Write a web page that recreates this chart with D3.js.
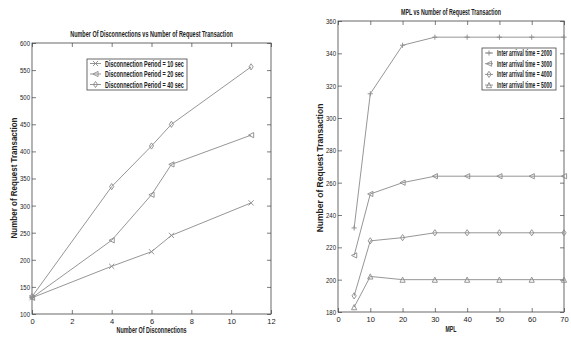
<!DOCTYPE html>
<html lang="en">
  <head>
    <meta charset="UTF-8" />
    <title>Request Transaction charts</title>
    <script src="https://d3js.org/d3.v7.min.js"></script>
    <style>
      body { margin: 0; background: #fff; }
      svg text { font-family: "Liberation Sans", Arial, sans-serif; fill: #222; }
    </style>
  </head>
  <body>
    <svg id="chart" width="571" height="339"></svg>
    <script>
      // left chart
      const disconnections = [0, 4, 6, 7, 11];
      const period10 = [130, 188, 215, 245, 305];
      const period20 = [130, 236, 320, 376, 430];
      const period40 = [132, 335, 410, 450, 556];
      const leftNames = ["Disconnection Period = 10 sec", "Disconnection Period = 20 sec", "Disconnection Period = 40 sec"];
      const leftXTicks = [0, 2, 4, 6, 8, 10, 12];
      const leftYTicks = [100, 150, 200, 250, 300, 350, 400, 450, 500, 550, 600];

      // right chart
      const mpl = [5, 10, 20, 30, 40, 50, 60, 70];
      const iat2000 = [232, 315, 345, 350, 350, 350, 350, 350];
      const iat3000 = [215, 253, 260, 264, 264, 264, 264, 264];
      const iat4000 = [190, 224, 226, 229, 229, 229, 229, 229];
      const iat5000 = [183, 202, 200, 200, 200, 200, 200, 200];
      const rightNames = ["Inter arrival time = 2000", "Inter arrival time = 3000", "Inter arrival time = 4000", "Inter arrival time = 5000"];
      const rightXTicks = [0, 10, 20, 30, 40, 50, 60, 70];
      const rightYTicks = [180, 200, 220, 240, 260, 280, 300, 320, 340, 360];

      const svg = d3.select("#chart");
      const lineColor = "#8a8a8a";

      // condensed look: draw text at (x, y), then scale it horizontally to width w
      function narrowText(g, x, y, str, w, opts) {
        const t = g.append("text").attr("x", 0).attr("y", 0)
          .attr("text-anchor", opts.anchor || "start")
          .style("font-size", opts.size + "px")
          .style("font-weight", opts.weight || "bold")
          .text(str);
        const k = w / t.node().getComputedTextLength();
        const rot = opts.rotate ? ` rotate(${opts.rotate})` : "";
        t.attr("transform", `translate(${x},${y})${rot} scale(${k},1)`);
        return t;
      }

      function marker(g, type, x, y) {
        const s = 2.6;
        let d;
        if (type === "x") d = `M${x - s},${y - s}L${x + s},${y + s}M${x - s},${y + s}L${x + s},${y - s}`;
        else if (type === "+") d = `M${x - s},${y}L${x + s},${y}M${x},${y - s}L${x},${y + s}`;
        else if (type === "<") d = `M${x - s},${y}L${x + s},${y - s}L${x + s},${y + s}Z`;
        else if (type === "^") d = `M${x},${y - s}L${x + s},${y + s}L${x - s},${y + s}Z`;
        else d = `M${x},${y - s - 0.5}L${x + s - 0.5},${y}L${x},${y + s + 0.5}L${x - s + 0.5},${y}Z`;
        g.append("path").attr("d", d).attr("fill", "none").attr("stroke", lineColor).attr("stroke-width", 0.9);
      }

      function drawPlot(cfg) {
        const x = d3.scaleLinear().domain(cfg.xDomain).range([cfg.left, cfg.right]);
        const y = d3.scaleLinear().domain(cfg.yDomain).range([cfg.bottom, cfg.top]);
        const g = svg.append("g");

        g.append("rect")
          .attr("x", cfg.left).attr("y", cfg.top)
          .attr("width", cfg.right - cfg.left).attr("height", cfg.bottom - cfg.top)
          .attr("fill", "none").attr("stroke", "#444").attr("stroke-width", 0.8);

        const xb = g.append("g").attr("transform", `translate(0,${cfg.bottom})`)
          .call(d3.axisBottom(x).tickValues(cfg.xTicks).tickSize(-4).tickPadding(5));
        const xt = g.append("g").attr("transform", `translate(0,${cfg.top})`)
          .call(d3.axisTop(x).tickValues(cfg.xTicks).tickSize(-4).tickFormat(""));
        const yl = g.append("g").attr("transform", `translate(${cfg.left},0)`)
          .call(d3.axisLeft(y).tickValues(cfg.yTicks).tickSize(-4).tickPadding(2));
        const yr = g.append("g").attr("transform", `translate(${cfg.right},0)`)
          .call(d3.axisRight(y).tickValues(cfg.yTicks).tickSize(-4).tickFormat(""));
        [xb, xt, yl, yr].forEach((a) => {
          a.select(".domain").remove();
          a.selectAll("line").attr("stroke", "#444").attr("stroke-width", 0.7);
          a.selectAll("text").style("font-size", "7.5px").attr("fill", "#222");
        });
        yl.selectAll("text").attr("transform", "scale(0.8,1)")
          .attr("x", function () { return +d3.select(this).attr("x") / 0.8; });

        cfg.series.forEach((s) => {
          const line = d3.line().x((d, i) => x(cfg.xs[i])).y((d) => y(d));
          g.append("path").datum(s.values).attr("d", line)
            .attr("fill", "none").attr("stroke", lineColor).attr("stroke-width", 0.9);
          s.values.forEach((v, i) => marker(g, s.marker, x(cfg.xs[i]), y(v)));
        });

        // legend
        const L = cfg.legend;
        g.append("rect").attr("x", L.x).attr("y", L.y).attr("width", L.w).attr("height", L.h)
          .attr("fill", "#fff").attr("stroke", "#444").attr("stroke-width", 0.8);
        cfg.series.forEach((s, i) => {
          const ly = L.y + L.first + i * L.step;
          g.append("line").attr("x1", L.x + 3).attr("x2", L.x + L.sample)
            .attr("y1", ly).attr("y2", ly).attr("stroke", lineColor).attr("stroke-width", 0.9);
          marker(g, s.marker, L.x + 3 + (L.sample - 3) / 2, ly);
          narrowText(g, L.x + L.sample + 4, ly + 3, s.name, L.textW, { size: 8.5 });
        });

        const mid = (cfg.left + cfg.right) / 2;
        narrowText(g, mid, cfg.titleY, cfg.title, cfg.titleW, { size: 8.5, anchor: "middle" });
        narrowText(g, mid, cfg.xLabelY, cfg.xLabel, cfg.xLabelW, { size: 8.5, anchor: "middle" });
        narrowText(g, cfg.yLabelX, cfg.yLabelMid, cfg.yLabel, cfg.yLabelW, { size: 8.5, anchor: "middle", rotate: -90 });
      }

      drawPlot({
        left: 32, right: 271, top: 43, bottom: 314,
        xDomain: [0, 12], yDomain: [100, 600],
        xTicks: leftXTicks, yTicks: leftYTicks, xs: disconnections,
        series: [
          { name: leftNames[0], values: period10, marker: "x" },
          { name: leftNames[1], values: period20, marker: "<" },
          { name: leftNames[2], values: period40, marker: "d" },
        ],
        legend: { x: 87, y: 59, w: 100, h: 31, first: 4.5, step: 10.5, sample: 14, textW: 79 },
        title: "Number Of Disconnections vs Number of Request Transaction", titleY: 37, titleW: 163,
        xLabel: "Number Of Disconnections", xLabelY: 333, xLabelW: 70,
        yLabel: "Number of Request Transaction", yLabelX: 17, yLabelMid: 178, yLabelW: 121,
      });

      drawPlot({
        left: 338, right: 564, top: 21, bottom: 312,
        xDomain: [0, 70], yDomain: [180, 360],
        xTicks: rightXTicks, yTicks: rightYTicks, xs: mpl,
        series: [
          { name: rightNames[0], values: iat2000, marker: "+" },
          { name: rightNames[1], values: iat3000, marker: "<" },
          { name: rightNames[2], values: iat4000, marker: "d" },
          { name: rightNames[3], values: iat5000, marker: "^" },
        ],
        legend: { x: 482, y: 48, w: 74, h: 42, first: 5, step: 10.7, sample: 11, textW: 55 },
        title: "MPL vs Number of Request Transaction", titleY: 15, titleW: 100,
        xLabel: "MPL", xLabelY: 332, xLabelW: 11,
        yLabel: "Number of Request Transaction", yLabelX: 323, yLabelMid: 168, yLabelW: 129,
      });
    </script>
  </body>
</html>
